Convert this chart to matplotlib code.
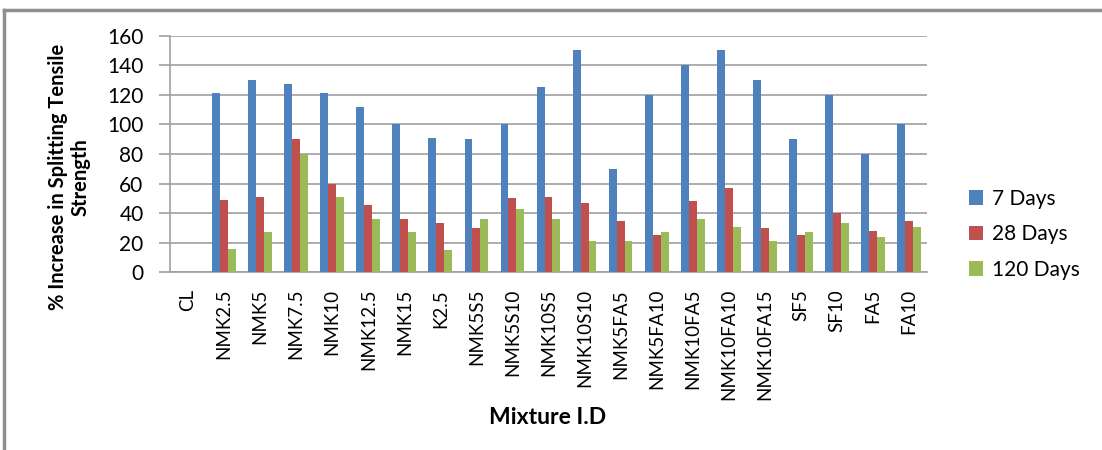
import numpy as np
import matplotlib
matplotlib.use("Agg")
import matplotlib.pyplot as plt
from matplotlib.lines import Line2D

plt.rcParams['font.family'] = ['Lato', 'DejaVu Sans']

# mixture ids and % increase in splitting tensile strength
mixtures = ["CL", "NMK2.5", "NMK5", "NMK7.5", "NMK10", "NMK12.5", "NMK15", "K2.5",
            "NMK5S5", "NMK5S10", "NMK10S5", "NMK10S10", "NMK5FA5", "NMK5FA10",
            "NMK10FA5", "NMK10FA10", "NMK10FA15", "SF5", "SF10", "FA5", "FA10"]
days7 = [0, 121, 130, 127, 121, 112, 100, 91, 90, 100, 125, 150, 70, 120,
         140, 150, 130, 90, 120, 80, 100]
days28 = [0, 49, 51, 90, 60, 45.5, 36, 33.5, 30, 50, 51, 47, 35, 25.5,
          48, 57, 30, 25, 40, 28, 35]
days120 = [0, 16, 27, 80, 51, 36, 27, 15, 36, 42.5, 36, 21.5, 21.5, 27,
           36, 30.5, 21.5, 27, 33.5, 24, 30.5]

series = [("7 Days", days7, "#4F81BD"),
          ("28 Days", days28, "#C0504D"),
          ("120 Days", days120, "#9BBB59")]

fig = plt.figure(figsize=(11.02, 4.5), dpi=100)
ax = fig.add_axes([170/1102, 1-272.3/450, 757/1102, 236.6/450])

x = np.arange(len(mixtures))
w = 0.22
for i, (name, vals, col) in enumerate(series):
    ax.bar(x + (i-1)*w, vals, width=w, color=col, label=name, zorder=3)

ax.set_xlim(-0.5, len(mixtures)-0.5)
ax.set_ylim(0, 160)
ax.set_yticks(range(0, 161, 20))
ax.grid(axis='y', color='#a0a0a0', linewidth=1.2, zorder=0)
ax.set_xticks(x)
ax.set_xticklabels(mixtures, rotation=90, fontsize=13.5)
ax.tick_params(axis='x', length=0, pad=12)
ax.tick_params(axis='y', length=8, color='#a0a0a0', width=1.2, labelsize=15, pad=11)
for s in ['top', 'right']:
    ax.spines[s].set_visible(False)
for s in ['left', 'bottom']:
    ax.spines[s].set_color('#a0a0a0')
    ax.spines[s].set_linewidth(1.2)

fig.text(69/1102, 1-177/450, "% Increase in Splitting Tensile\nStrength", fontsize=14.5,
         fontweight='bold', rotation=90, ha='center', va='center', linespacing=1.15)
fig.text(548/1102, 1-418/450, "Mixture I.D", fontsize=16.5, fontweight='bold',
         ha='center', va='center')

fig.legend(loc='upper left', bbox_to_anchor=(950/1102, 1-170/450), frameon=False,
           fontsize=15, handlelength=0.7, handleheight=0.7, handletextpad=0.4,
           labelspacing=0.75)

# outer frame (top and left edges)
fig.add_artist(Line2D([4/1102, 1], [1-10/450, 1-10/450], color='#909090', lw=2.5))
fig.add_artist(Line2D([4/1102, 4/1102], [0, 1-10/450], color='#909090', lw=2.5))

fig.savefig("out.png", dpi=100, facecolor='white')
